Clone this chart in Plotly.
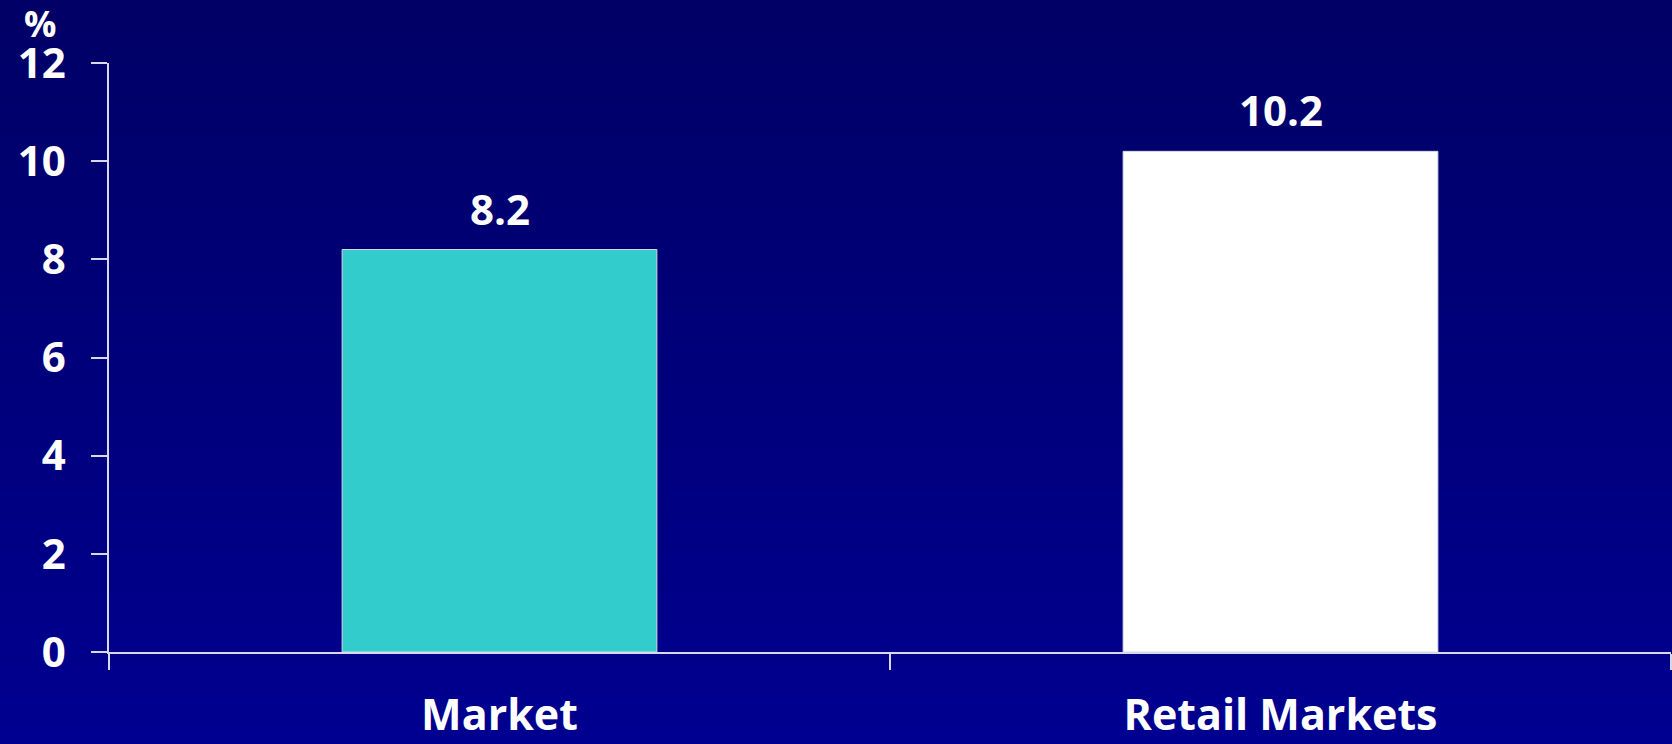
import plotly.graph_objects as go

# Data
categories = ["Market", "Retail Markets"]
values = [8.2, 10.2]
bar_colors = ["#33CCCC", "#FFFFFF"]
y_ticks = [0, 2, 4, 6, 8, 10, 12]
unit_label = "%"

W, H = 1672, 744
M_L, M_R, M_T, M_B = 109, 1, 63, 92
plot_w = W - M_L - M_R
plot_h = H - M_T - M_B

FONT = "Open Sans"
TEXT_COLOR = "#FFFFFF"
AXIS_COLOR = "#D8D8E8"

fig = go.Figure()
fig.add_trace(go.Bar(
    x=categories,
    y=values,
    marker=dict(color=bar_colors, line=dict(color="#D8D8E8", width=1)),
    hoverinfo="skip",
))

# Value labels above each bar
for cat, val in zip(categories, values):
    fig.add_annotation(
        x=cat, y=val, xref="x", yref="y",
        text=f"{val:.1f}", showarrow=False,
        yanchor="bottom", yshift=11,
        font=dict(family=FONT, size=42, color=TEXT_COLOR, weight=700),
    )

# Unit label above the y axis
fig.add_annotation(
    x=(40 - M_L) / plot_w, y=(H - M_B - 24) / plot_h,
    xref="paper", yref="paper", text=unit_label, showarrow=False,
    xanchor="center", yanchor="middle",
    font=dict(family=FONT, size=36, color=TEXT_COLOR, weight=700),
)

# Vertical gradient background built from thin bands
n_bands = 93
top_rgb = (0, 0, 102)
bot_rgb = (0, 0, 144)
y0_paper = -M_B / plot_h
y1_paper = (H - M_B) / plot_h
x0_paper = -M_L / plot_w
x1_paper = (W - M_L) / plot_w
band_h = (y1_paper - y0_paper) / n_bands
shapes = []
for i in range(n_bands):
    t = i / (n_bands - 1)
    r = round(bot_rgb[0] + (top_rgb[0] - bot_rgb[0]) * t)
    g = round(bot_rgb[1] + (top_rgb[1] - bot_rgb[1]) * t)
    b = round(bot_rgb[2] + (top_rgb[2] - bot_rgb[2]) * t)
    shapes.append(dict(
        type="rect", xref="paper", yref="paper", layer="below",
        x0=x0_paper - 0.01, x1=x1_paper + 0.01,
        y0=y0_paper + i * band_h, y1=y0_paper + (i + 1) * band_h + band_h * 0.2,
        fillcolor=f"rgb({r},{g},{b})", line=dict(width=0),
    ))

fig.update_layout(
    width=W, height=H,
    margin=dict(l=M_L, r=M_R, t=M_T, b=M_B, pad=0, autoexpand=False),
    paper_bgcolor="rgb(0,0,124)",
    plot_bgcolor="rgba(0,0,0,0)",
    bargap=0.597,
    showlegend=False,
    shapes=shapes,
    xaxis=dict(
        showline=True, linecolor=AXIS_COLOR, linewidth=1.5,
        ticks="outside", ticklen=16, tickwidth=1.5, tickcolor=AXIS_COLOR,
        tickson="boundaries", showgrid=False, zeroline=False,
        automargin=False, ticklabelstandoff=25,
        tickfont=dict(family=FONT, size=43, color=TEXT_COLOR, weight=700),
    ),
    yaxis=dict(
        range=[0, 12], tickvals=y_ticks, showgrid=False, zeroline=False,
        showline=True, linecolor=AXIS_COLOR, linewidth=1.5,
        ticks="outside", ticklen=16, tickwidth=1.5, tickcolor=AXIS_COLOR,
        automargin=False, ticklabelstandoff=17,
        tickfont=dict(family=FONT, size=42, color=TEXT_COLOR, weight=700),
    ),
)

fig.write_html("out.html")
